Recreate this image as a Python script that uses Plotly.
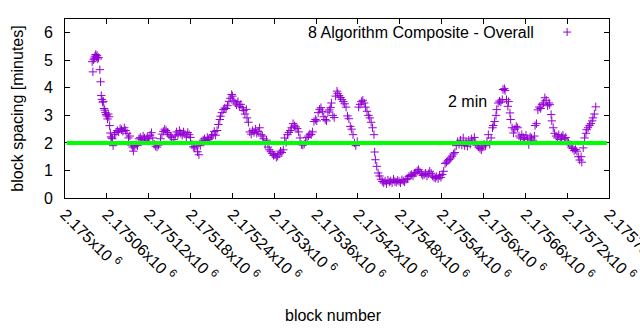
import plotly.graph_objects as go

BASE_BLOCK = 2175000

block_offsets = [
    39, 40, 41, 42, 43, 44, 45, 46, 47, 48,
    50, 51, 52, 53, 54, 55, 56, 57, 58, 59,
    60, 61, 62, 63, 64, 65, 66, 67, 68, 69,
    71, 73, 75, 77, 79, 81, 83, 85, 87, 89,
    91, 93, 95, 97, 98, 100, 102, 104, 106, 108,
    110, 112, 114, 116, 118, 120, 122, 124, 126, 128,
    130, 132, 134, 137, 139, 141, 143, 145, 147, 149,
    151, 153, 156, 158, 160, 162, 164, 166, 168, 170,
    172, 174, 176, 178, 180, 182, 184, 186, 188, 190,
    192, 194, 196, 198, 200, 202, 204, 206, 208, 210,
    212, 214, 216, 218, 220, 222, 223, 225, 227, 229,
    231, 233, 235, 237, 239, 240, 242, 244, 246, 248,
    250, 252, 254, 256, 258, 260, 261, 263, 265, 267,
    269, 271, 273, 275, 277, 279, 281, 283, 285, 287,
    289, 291, 293, 295, 297, 299, 301, 303, 305, 307,
    309, 311, 313, 315, 317, 319, 321, 323, 325, 327,
    329, 331, 333, 335, 337, 339, 341, 343, 345, 347,
    349, 351, 353, 355, 357, 359, 361, 363, 365, 367,
    369, 371, 373, 375, 377, 379, 381, 382, 384, 386,
    388, 390, 391, 393, 395, 397, 399, 401, 403, 405,
    407, 409, 411, 413, 415, 417, 419, 421, 423, 425,
    427, 429, 431, 433, 435, 437, 439, 441, 443, 444,
    445, 447, 449, 451, 453, 455, 457, 459, 461, 463,
    465, 467, 469, 471, 473, 475, 477, 479, 481, 483,
    485, 487, 489, 491, 493, 495, 497, 499, 501, 503,
    505, 507, 509, 511, 513, 515, 517, 519, 521, 523,
    525, 527, 529, 531, 533, 535, 537, 539, 541, 543,
    545, 547, 549, 551, 553, 555, 557, 559, 561, 563,
    565, 567, 569, 571, 573, 575, 577, 579, 581, 583,
    585, 587, 589, 591, 593, 595, 597, 599, 601, 603,
    605, 607, 609, 611, 613, 614, 616, 618, 619, 621,
    623, 625, 627, 628, 630, 631, 633, 635, 636, 638,
    639, 641, 643, 645, 647, 649, 651, 653, 655, 657,
    659, 661, 663, 665, 667, 669, 671, 673, 674, 676,
    678, 680, 682, 684, 686, 688, 690, 692, 694, 695,
    697, 698, 700, 702, 704, 706, 708, 710, 712, 714,
    716, 718, 720, 722, 724, 726, 728, 730, 732, 734,
    736, 738, 740, 741, 743, 745, 747, 748, 750, 752,
    754, 756, 757, 759, 761,
]

spacing_minutes = [
    4.95, 4.58, 5.02, 5.08, 5.15, 5.21, 5.12, 5.18, 5.05, 5.10,
    4.66, 4.22, 3.72, 3.58, 3.48, 3.51, 3.25, 3.19, 3.10, 3.03,
    2.98, 2.87, 3.05, 2.95, 2.63, 2.36, 2.22, 2.18, 2.15, 1.90,
    2.30, 2.38, 2.45, 2.40, 2.52, 2.48, 2.42, 2.55, 2.45, 2.35,
    2.18, 2.25, 1.92, 1.85, 1.70, 1.88, 1.94, 1.90, 2.15, 2.20,
    2.12, 2.25, 2.18, 2.10, 2.22, 2.15, 2.28, 2.37, 2.18, 1.95,
    1.88, 1.85, 1.92, 2.15, 2.32, 2.42, 2.50, 2.45, 2.38, 2.30,
    2.25, 2.20, 2.12, 2.25, 2.40, 2.30, 2.45, 2.35, 2.28, 2.40,
    2.32, 2.22, 2.38, 2.30, 2.20, 1.95, 1.86, 1.82, 1.88, 1.68,
    1.57, 1.90, 2.05, 2.10, 2.15, 2.08, 2.20, 2.12, 2.18, 2.25,
    2.30, 2.42, 2.28, 2.45, 2.67, 2.85, 2.97, 3.10, 3.21, 3.27,
    3.25, 3.35, 3.51, 3.62, 3.76, 3.70, 3.55, 3.45, 3.38, 3.50,
    3.33, 3.40, 3.28, 3.18, 3.05, 3.22, 2.91, 2.75, 2.40, 2.32,
    2.45, 2.38, 2.50, 2.35, 2.42, 2.55, 2.30, 2.25, 2.15, 1.94,
    2.10, 1.85, 1.75, 1.68, 1.62, 1.55, 1.57, 1.48, 1.52, 1.60,
    1.70, 1.65, 1.75, 2.18, 2.02, 2.30, 2.38, 2.45, 2.55, 2.70,
    2.62, 2.58, 2.52, 2.40, 2.18, 1.94, 1.92, 1.96, 2.05, 2.20,
    2.25, 2.32, 2.30, 2.40, 2.78, 2.85, 2.80, 3.10, 3.22, 3.28,
    3.15, 2.95, 2.85, 2.80, 3.12, 3.20, 3.28, 3.45, 3.00, 2.92,
    3.70, 3.88, 3.80, 3.72, 3.65, 3.58, 3.50, 3.42, 3.30, 2.98,
    2.88, 2.60, 2.50, 2.30, 2.00, 1.90, 2.05, 3.30, 3.40, 3.50,
    3.55, 3.45, 3.30, 3.15, 3.00, 2.91, 2.75, 2.55, 2.30, 1.67,
    1.39, 1.15, 0.91, 0.80, 0.68, 0.60, 0.55, 0.62, 0.52, 0.65,
    0.58, 0.62, 0.55, 0.68, 0.60, 0.57, 0.64, 0.60, 0.55, 0.66,
    0.62, 0.58, 0.68, 0.70, 0.78, 0.82, 0.85, 0.80, 0.90, 0.92,
    0.98, 1.03, 0.95, 0.88, 0.82, 0.85, 0.90, 0.80, 0.88, 0.97,
    0.90, 0.80, 0.75, 0.72, 0.78, 0.70, 0.82, 0.75, 0.85, 0.97,
    1.25, 1.30, 1.35, 1.40, 1.45, 1.52, 1.60, 1.65, 1.90, 2.05,
    1.95, 2.10, 1.92, 2.18, 1.90, 2.02, 1.88, 2.10, 1.95, 2.15,
    2.05, 2.20, 1.98, 1.92, 1.85, 1.80, 1.75, 1.85, 1.95, 1.90,
    2.05, 2.30, 1.95, 2.18, 2.55, 2.63, 2.78, 3.00, 3.21, 3.45,
    3.52, 3.48, 3.57, 3.94, 3.97, 3.90, 3.57, 3.33, 3.50, 3.09,
    2.85, 2.55, 2.36, 2.50, 2.60, 2.55, 2.25, 2.18, 2.30, 2.20,
    2.12, 2.28, 2.15, 1.94, 2.22, 2.18, 2.10, 2.25, 2.63, 2.70,
    3.20, 3.30, 3.25, 3.40, 3.45, 3.64, 3.55, 3.35, 3.45, 3.39,
    3.03, 2.80, 2.55, 2.35, 2.25, 2.18, 2.30, 2.12, 2.22, 2.28,
    2.15, 2.20, 2.05, 2.00, 1.94, 1.85, 1.80, 1.72, 1.76, 1.70,
    1.50, 1.38, 1.50, 1.30, 1.82, 2.18, 2.35, 2.48, 2.55, 2.63,
    2.70, 2.80, 2.91, 3.05, 3.31,
]

assert len(block_offsets) == len(spacing_minutes)
blocks = [BASE_BLOCK + o for o in block_offsets]

x_tick_values = [2175000, 2175060, 2175120, 2175180, 2175240, 2175300, 2175360,
                 2175420, 2175480, 2175540, 2175600, 2175660, 2175720, 2175780]
x_tick_mantissas = ["2.175", "2.17506", "2.17512", "2.17518", "2.17524", "2.1753",
                    "2.17536", "2.17542", "2.17548", "2.17554", "2.1756", "2.17566",
                    "2.17572", "2.17578"]
x_tick_labels = [m + "x10 <sup>6</sup>" for m in x_tick_mantissas]
y_tick_values = [0, 1, 2, 3, 4, 5, 6]
target_minutes = 2
series_name = "8 Algorithm Composite - Overall"
label_text = "2 min"
label_block = 2175546
label_value = 3.5

PURPLE = "#9400d3"
FONT = dict(family="Liberation Sans, Arial, sans-serif", size=16, color="#000000")

fig = go.Figure()
fig.add_trace(go.Scatter(
    x=blocks, y=spacing_minutes, mode="markers", name=series_name,
    marker=dict(symbol="cross-thin", size=6, line=dict(color=PURPLE, width=1), color=PURPLE),
    showlegend=False,
))

# 2-minute reference line
fig.add_shape(type="line", xref="paper", x0=0.003, x1=0.996, yref="y",
              y0=target_minutes, y1=target_minutes,
              line=dict(color="#00ff00", width=4), layer="above")

# key: text then sample marker (gnuplot style)
fig.add_annotation(text=series_name, xref="paper", yref="paper", x=0.865, y=0.927,
                   xanchor="right", yanchor="middle", showarrow=False, font=FONT)
fig.add_shape(type="line", xref="paper", yref="paper", xsizemode="pixel", ysizemode="pixel",
              xanchor=0.923, yanchor=0.927, x0=-4, x1=4, y0=0, y1=0,
              line=dict(color=PURPLE, width=1))
fig.add_shape(type="line", xref="paper", yref="paper", xsizemode="pixel", ysizemode="pixel",
              xanchor=0.923, yanchor=0.927, x0=0, x1=0, y0=-4, y1=4,
              line=dict(color=PURPLE, width=1))

fig.add_annotation(text=label_text, x=label_block, y=label_value, xref="x", yref="y",
                   xanchor="left", yanchor="middle", showarrow=False, font=FONT)

# axis titles
fig.add_annotation(text="block number", xref="paper", yref="paper", x=0.494, y=-0.657,
                   xanchor="center", yanchor="middle", showarrow=False, font=FONT)
fig.add_annotation(text="block spacing [minutes]", xref="paper", yref="paper", x=-0.088, y=0.5,
                   xanchor="center", yanchor="middle", textangle=-90, showarrow=False, font=FONT)

axis_common = dict(showline=True, linecolor="#000000", linewidth=1, mirror="ticks",
                   ticks="inside", ticklen=5, tickcolor="#000000", tickwidth=1,
                   showgrid=False, zeroline=False, tickfont=FONT, automargin=False)

fig.update_layout(
    width=640, height=330,
    margin=dict(l=65, r=31, t=19, b=132, autoexpand=False),
    paper_bgcolor="#ffffff", plot_bgcolor="#ffffff",
    font=FONT,
    showlegend=False,
    xaxis=dict(range=[2175000, 2175780], tickvals=x_tick_values, ticktext=x_tick_labels,
               tickangle=45, ticklabeloverflow="allow", **axis_common),
    yaxis=dict(range=[0, 6.5], tickvals=y_tick_values, ticklabelstandoff=8, **axis_common),
)

fig.write_html("out.html")
